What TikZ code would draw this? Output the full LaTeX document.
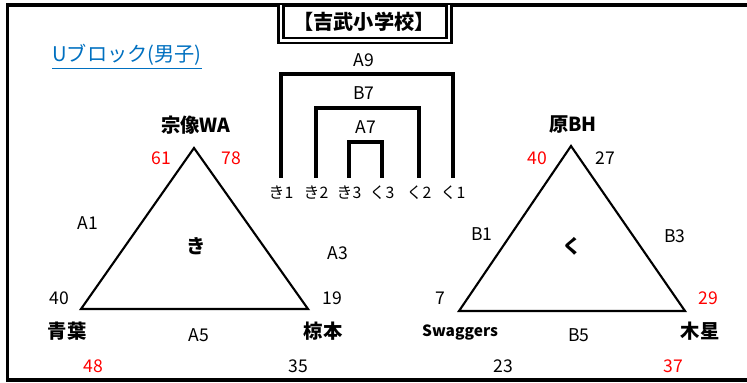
\documentclass[tikz,border=0pt]{standalone}
\usepackage{fontspec}
\setmainfont{Noto Sans CJK JP}
\usetikzlibrary{positioning}
\definecolor{linkblue}{RGB}{0,112,192}

\begin{document}
\begin{tikzpicture}[x=0.02cm,y=-0.02cm]
		% styles for the block sheet
		\tikzset{
			team/.style={inner sep=0pt, font=\bfseries\fontsize{11}{11}\selectfont},
			score/.style={inner sep=0pt, font=\fontsize{10}{10}\selectfont},
			win/.style={score, text=red},
			game/.style={inner sep=0pt, font=\fontsize{10}{10}\selectfont},
			seed/.style={inner sep=0pt, text height=7pt, text depth=1pt, font=\fontsize{9}{9}\selectfont},
			bracket/.style={line width=1.9pt},
			league/.style={line width=1.2pt, line join=miter}
		}
		\useasboundingbox (0,0) rectangle (747,382);
		
		% outer frame (open on the right)
		\draw[line width=1.9pt] (747,5) -- (7.5,5) -- (7.5,380) -- (747,380);
		
		% title box with double border
		\draw[double, line width=1.2pt, double distance=1.6pt] (281,5) |- (449,40.5) -- (449,5);
		\node[team, font=\bfseries\fontsize{11.5}{11.5}\selectfont] (title) at (364,22) {【吉武小学校】};
		
		% block name
		\node[inner sep=0pt, text=linkblue, font=\fontsize{11.5}{11.5}\selectfont] (block) at (127,57) {\underline{Uブロック(男子)}};
		
		% final bracket
		\node[seed] (k1) at (281,193) {き1};
		\node[seed] (k2) at (316,193) {き2};
		\node[seed] (k3) at (349,193) {き3};
		\node[seed] (q3) at (382,193) {く3};
		\node[seed] (q2) at (419,193) {く2};
		\node[seed] (q1) at (453,193) {く1};
		
		\coordinate (a9) at (364,74);
		\coordinate (b7) at (364,108);
		\coordinate (a7) at (364,142);
		\node[game] at (364,60) {A9};
		\node[game] at (364,93) {B7};
		\node[game] at (366,127) {A7};
		
		\draw[bracket] ([yshift=4.5pt]k1.north) |- (a9) -| ([yshift=4.5pt]q1.north);
		\draw[bracket] ([yshift=4.5pt]k2.north) |- (b7) -| ([yshift=4.5pt]q2.north);
		\draw[bracket] ([yshift=4.5pt]k3.north) |- (a7) -| ([yshift=4.5pt]q3.north);
		
		%left league (き)
		\coordinate (kA) at (194,148);
		\coordinate (kB) at (81,309);
		\coordinate (kC) at (308,309);
		\draw[league] (kA) -- (kB) -- (kC) -- cycle;
		\node[team] (munakata) at (196,125) {宗像WA};
		\node[team] (aoba) at (67,331) {青葉};
		\node[team] (mukumoto) at (323,331) {椋本};
		\node[team] at (196,246) {き};
		\node[game] at (88,223) {A1};
		\node[game] at (338,253) {A3};
		\node[game] at (199,335) {A5};
		\node[win] at (161,158) {61};
		\node[win] at (231,158) {78};
		\node[score] at (59,298) {40};
		\node[score] at (332,298) {19};
		\node[win] at (93,366) {48};
		\node[score] at (298,366) {35};
		
		%right league (く)
		\coordinate (qA) at (571,146);
		\coordinate (qB) at (459,311);
		\coordinate (qC) at (685,311);
		\draw[league] (qA) -- (qB) -- (qC) -- cycle;
		\node[team] (hara) at (573,125) {原BH};
		\node[team, font=\bfseries\fontsize{8.8}{8.8}\selectfont] (swaggers) at (460,332) {Swaggers};
		\node[team] (mokusei) at (700,331) {木星};
		\node[team] at (572,246) {く};
		\node[game] at (482,234) {B1};
		\node[game] at (675,236) {B3};
		\node[game] at (579,335) {B5};
		\node[win] at (537,158) {40};
		\node[score] at (605,158) {27};
		\node[score] at (440,298) {7};
		\node[win] at (708,298) {29};
		\node[score] at (503,366) {23};
		\node[win] at (673,366) {37};
	\end{tikzpicture}
\end{document}
